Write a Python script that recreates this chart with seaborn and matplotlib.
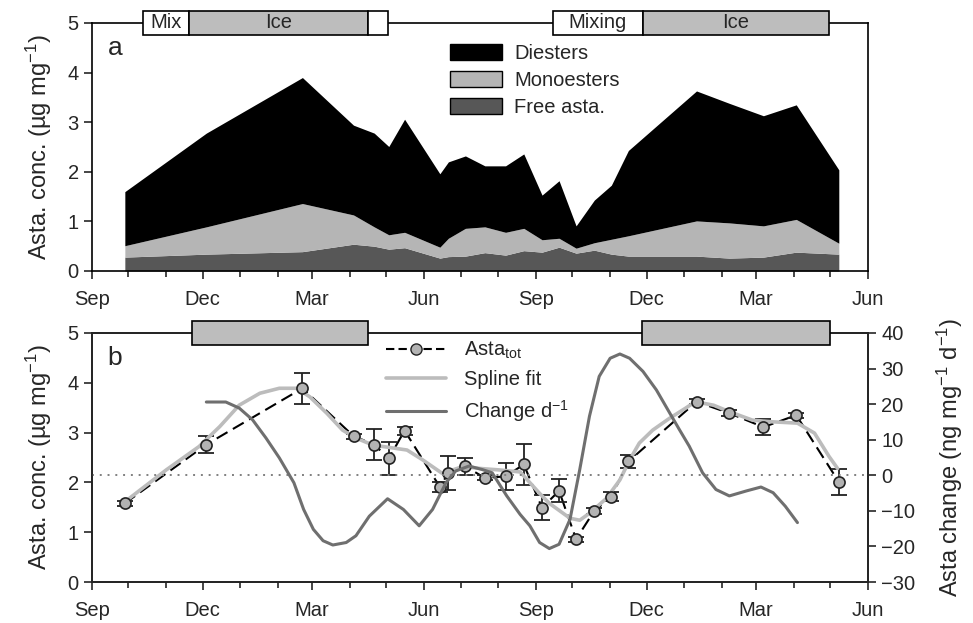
import pandas as pd
import matplotlib
matplotlib.use("Agg")
import matplotlib.pyplot as plt
import matplotlib.dates as mdates
from matplotlib.patches import Rectangle, Patch
from matplotlib.lines import Line2D
import seaborn as sns

# sampling dates (shared by both panels)
sample_dates = ["2009-09-28", "2009-12-04", "2010-02-21", "2010-04-04", "2010-04-21",
                "2010-05-03", "2010-05-16", "2010-06-14", "2010-06-21", "2010-07-05",
                "2010-07-21", "2010-08-07", "2010-08-22", "2010-09-06", "2010-09-20",
                "2010-10-04", "2010-10-19", "2010-11-02", "2010-11-16", "2011-01-11",
                "2011-02-07", "2011-03-07", "2011-04-03", "2011-05-08"]

# panel a: astaxanthin fractions (ug/mg)
free_asta = [0.28, 0.34, 0.39, 0.54, 0.50, 0.44, 0.47, 0.26, 0.29, 0.30, 0.37, 0.32,
             0.41, 0.38, 0.48, 0.36, 0.42, 0.34, 0.30, 0.30, 0.26, 0.28, 0.38, 0.34]
monoesters = [0.23, 0.55, 0.97, 0.59, 0.39, 0.29, 0.31, 0.22, 0.37, 0.56, 0.52, 0.46,
              0.45, 0.25, 0.18, 0.10, 0.15, 0.30, 0.41, 0.71, 0.71, 0.63, 0.66, 0.22]
diesters = [1.09, 1.89, 2.54, 1.81, 1.89, 1.78, 2.28, 1.48, 1.54, 1.46, 1.23, 1.34,
            1.50, 0.90, 1.16, 0.45, 0.86, 1.09, 1.72, 2.62, 2.41, 2.22, 2.31, 1.48]

# panel b: total astaxanthin with error
asta_tot = [1.58, 2.76, 3.89, 2.93, 2.76, 2.48, 3.04, 1.91, 2.19, 2.32, 2.09, 2.12,
            2.36, 1.49, 1.83, 0.86, 1.43, 1.71, 2.42, 3.62, 3.39, 3.11, 3.35, 2.01]
asta_err = [0.05, 0.17, 0.31, 0.05, 0.31, 0.34, 0.08, 0.10, 0.35, 0.18, 0.05, 0.27,
            0.41, 0.25, 0.23, 0.05, 0.06, 0.09, 0.14, 0.05, 0.06, 0.16, 0.05, 0.26]

# spline fit
spline_dates = ["2009-09-28", "2009-11-01", "2009-11-28", "2009-12-15", "2009-12-31",
                "2010-01-17", "2010-02-02", "2010-02-16", "2010-02-27", "2010-03-13",
                "2010-03-26", "2010-04-06", "2010-04-20", "2010-05-04", "2010-05-18",
                "2010-05-31", "2010-06-16", "2010-07-03", "2010-07-17", "2010-08-02",
                "2010-08-19", "2010-09-04", "2010-09-12", "2010-09-29", "2010-10-07",
                "2010-10-15", "2010-10-29", "2010-11-09", "2010-11-17", "2010-11-25",
                "2010-12-06", "2010-12-20", "2011-01-02", "2011-01-10", "2011-01-25",
                "2011-02-07", "2011-02-26", "2011-03-12", "2011-04-04", "2011-04-18",
                "2011-04-30", "2011-05-07"]
spline_vals = [1.61, 2.25, 2.72, 3.12, 3.55, 3.79, 3.89, 3.89, 3.72, 3.39,
               3.05, 2.89, 2.75, 2.70, 2.65, 2.45, 2.18, 2.32, 2.28, 2.25,
               2.21, 1.78, 1.58, 1.28, 1.24, 1.38, 1.68, 2.05, 2.45, 2.79,
               3.05, 3.29, 3.49, 3.62, 3.55, 3.42, 3.25, 3.22, 3.19, 2.99,
               2.52, 2.28]

# daily change (ng/mg/d)
change_dates = ["2009-12-04", "2009-12-20", "2009-12-31", "2010-01-11", "2010-01-22",
                "2010-02-02", "2010-02-14", "2010-02-22", "2010-03-02", "2010-03-10",
                "2010-03-18", "2010-03-29", "2010-04-06", "2010-04-17", "2010-05-02",
                "2010-05-15", "2010-05-28", "2010-06-08", "2010-06-19", "2010-06-27",
                "2010-07-08", "2010-07-19", "2010-07-27", "2010-08-08", "2010-08-19",
                "2010-08-27", "2010-09-04", "2010-09-12", "2010-09-20", "2010-09-29",
                "2010-10-07", "2010-10-15", "2010-10-23", "2010-11-01", "2010-11-09",
                "2010-11-17", "2010-11-28", "2010-12-09", "2010-12-20", "2010-12-28",
                "2011-01-05", "2011-01-16", "2011-01-27", "2011-02-07", "2011-02-21",
                "2011-03-05", "2011-03-15", "2011-03-25", "2011-04-04"]
change_vals = [20.6, 20.6, 18.9, 15.6, 10.5, 4.9, -2.1, -9.6, -15.2, -18.4,
               -19.6, -18.9, -17.0, -11.5, -6.6, -9.6, -14.2, -9.6, -2.1, 1.2,
               2.6, 1.6, 0.7, -5.8, -11.0, -14.2, -18.9, -20.6, -19.4, -12.4,
               1.6, 16.6, 27.8, 32.9, 34.1, 32.9, 29.2, 24.0, 17.5, 12.8,
               8.2, 0.7, -4.0, -5.8, -4.4, -3.3, -4.9, -8.7, -13.3]

sns.set_style("ticks")
plt.rcParams['font.family'] = ['Liberation Sans', 'DejaVu Sans']
plt.rcParams['axes.linewidth'] = 1.2
plt.rcParams['mathtext.fontset'] = 'custom'
plt.rcParams['mathtext.rm'] = 'Liberation Sans'
plt.rcParams['mathtext.it'] = 'Liberation Sans'

dates = pd.to_datetime(sample_dates)
spl = pd.DataFrame({'date': pd.to_datetime(spline_dates), 'val': spline_vals})
chg = pd.DataFrame({'date': pd.to_datetime(change_dates), 'val': change_vals})

DI_C, MONO_C, FREE_C = 'black', '#b5b5b5', '#575757'
SPL_C, CHG_C = '#bcbcbc', '#6f6f6f'
TICK_FS, LAB_FS = 14.5, 17

fig = plt.figure(figsize=(9.73, 6.23), dpi=100)
ax1 = fig.add_axes([92/973, 1-271/623, 776/973, 248/623])
ax2 = fig.add_axes([92/973, 1-582/623, 776/973, 249/623])


def fix_xaxis(ax):
    ax.set_xlim(pd.Timestamp("2009-09-01"), pd.Timestamp("2011-06-01"))
    ax.xaxis.set_major_locator(mdates.MonthLocator(bymonth=[3, 6, 9, 12]))
    ax.xaxis.set_minor_locator(mdates.MonthLocator())
    ax.xaxis.set_major_formatter(mdates.DateFormatter('%b'))
    ax.tick_params(axis='x', which='major', length=6, width=1.2, labelsize=TICK_FS, pad=8)
    ax.tick_params(axis='x', which='minor', length=4, width=1.2)
    ax.tick_params(axis='y', length=6, width=1.2, labelsize=TICK_FS)
    for s in ax.spines.values():
        s.set_visible(True)
        s.set_color('black')


def season_box(ax, start, end, face, label=None, h=0.048):
    trans = ax.get_xaxis_transform()
    x0 = mdates.date2num(pd.Timestamp(start))
    x1 = mdates.date2num(pd.Timestamp(end))
    ax.add_patch(Rectangle((x0, 1 - h), x1 - x0, 2 * h, transform=trans, facecolor=face,
                           edgecolor='black', lw=1.2, clip_on=False, zorder=10))
    if label:
        ax.text((x0 + x1) / 2, 1, label, transform=trans, ha='center', va='center',
                fontsize=14.5, zorder=11, clip_on=False)


# panel a
ax1.stackplot(dates, free_asta, monoesters, diesters, colors=[FREE_C, MONO_C, DI_C], lw=0)
fix_xaxis(ax1)
ax1.set_ylim(0, 5)
ax1.set_yticks(range(0, 6))
ax1.set_ylabel('Asta. conc. (µg mg$^{-1}$)', fontsize=LAB_FS, labelpad=10)
ax1.text(0.02, 0.9, 'a', transform=ax1.transAxes, fontsize=19, va='center')
handles = [Patch(facecolor=DI_C, edgecolor='black', label='Diesters'),
           Patch(facecolor=MONO_C, edgecolor='black', label='Monoesters'),
           Patch(facecolor=FREE_C, edgecolor='black', label='Free asta.')]
ax1.legend(handles=handles, loc='upper left', bbox_to_anchor=(0.438, 0.99), frameon=False,
           fontsize=TICK_FS, handlelength=2.6, handleheight=0.9, labelspacing=0.38,
           handletextpad=0.6)
season_box(ax1, "2009-10-13", "2009-11-20", 'white', 'Mix')
season_box(ax1, "2009-11-20", "2010-04-16", '#bdbdbd', 'Ice')
season_box(ax1, "2010-04-16", "2010-05-02", 'white')
season_box(ax1, "2010-09-15", "2010-11-28", 'white', 'Mixing')
season_box(ax1, "2010-11-28", "2011-04-30", '#bdbdbd', 'Ice')

# panel b
ax2r = ax2.twinx()
ax2.errorbar(dates, asta_tot, yerr=asta_err, fmt='none', ecolor='#222222', elinewidth=1.3,
             capsize=6, capthick=1.3, zorder=4)
ax2.plot(dates, asta_tot, color='black', ls=(0, (6, 3)), lw=1.5, zorder=3)
sns.lineplot(data=spl, x='date', y='val', ax=ax2, color=SPL_C, lw=2.6, sort=False, zorder=5)
ax2.plot(dates, asta_tot, ls='none', marker='o', ms=8, mfc='#b3b3b3', mec='#222222',
         mew=1.2, zorder=6)
sns.lineplot(data=chg, x='date', y='val', ax=ax2r, color=CHG_C, lw=2.2, sort=False)
ax2r.axhline(0, color='#808080', ls=(0, (1, 3)), lw=1.4, zorder=1)

fix_xaxis(ax2)
ax2.set_ylim(0, 5)
ax2.set_yticks(range(0, 6))
ax2.set_ylabel('Asta. conc. (µg mg$^{-1}$)', fontsize=LAB_FS, labelpad=10)
ax2.set_xlabel('')
ax2r.set_ylim(-30, 40)
ax2r.set_yticks(range(-30, 41, 10))
ax2r.tick_params(axis='y', length=6, width=1.2, labelsize=TICK_FS)
ax2r.set_ylabel('Asta change (ng mg$^{-1}$ d$^{-1}$)', fontsize=LAB_FS, labelpad=14)
ax2r.set_xlabel('')
ax2.text(0.02, 0.9, 'b', transform=ax2.transAxes, fontsize=19, va='center')

leg_handles = [Line2D([], [], color='black', ls=(0, (4, 2)), lw=1.5, marker='o', ms=8,
                      mfc='#b3b3b3', mec='#222222', label='Asta$_{\\mathrm{tot}}$'),
               Line2D([], [], color=SPL_C, lw=2.6, label='Spline fit'),
               Line2D([], [], color=CHG_C, lw=2.2, label='Change d$^{-1}$')]
ax2r.legend(handles=leg_handles, loc='upper left', bbox_to_anchor=(0.355, 1.045), frameon=False,
            fontsize=TICK_FS, handlelength=3.0, labelspacing=0.45, handletextpad=0.9)
season_box(ax2r, "2009-11-22", "2010-04-16", '#bdbdbd', h=0.05)
season_box(ax2r, "2010-11-27", "2011-05-01", '#bdbdbd', h=0.05)

fig.savefig('out.png', dpi=100)
